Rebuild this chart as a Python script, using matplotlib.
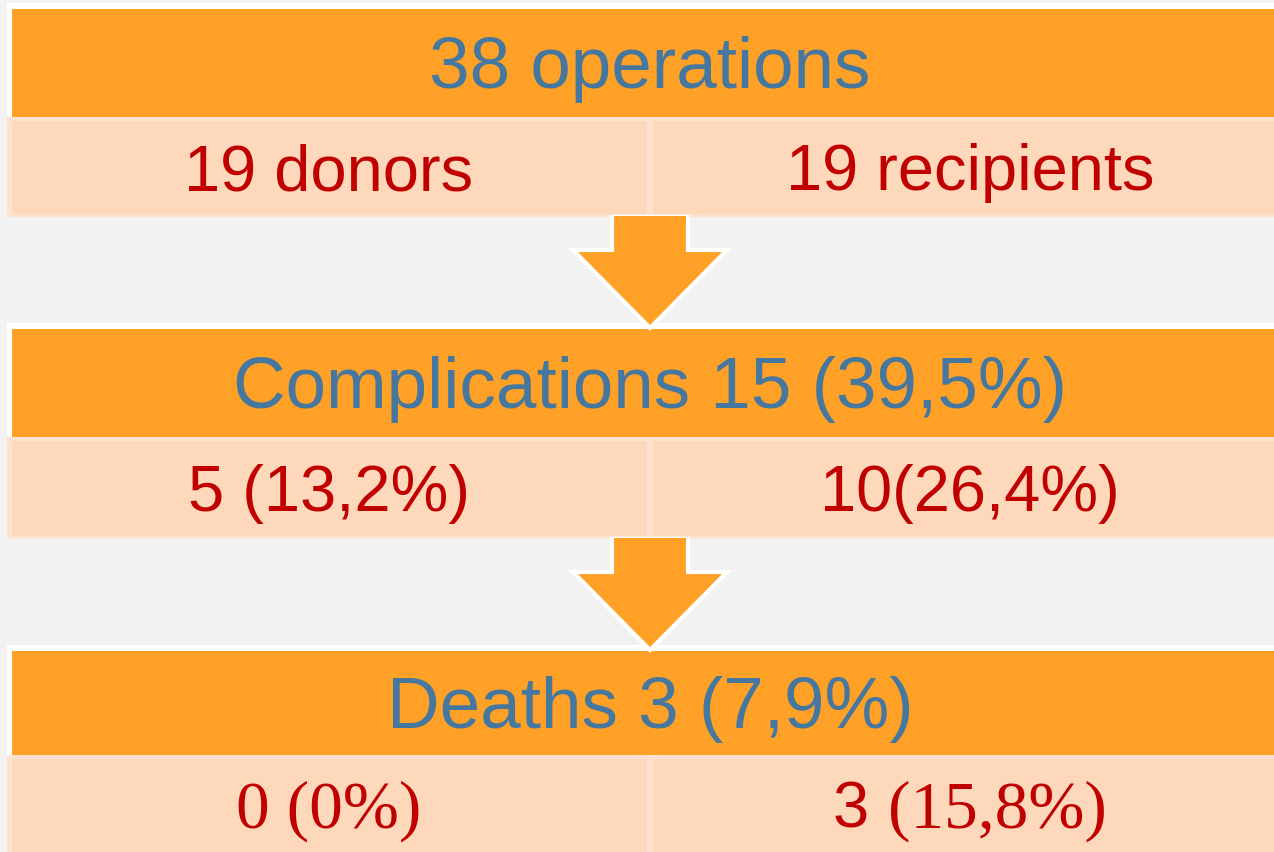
import matplotlib
matplotlib.use("Agg")
import matplotlib.pyplot as plt
from matplotlib.patches import Rectangle, Polygon

# ---- data ----
stage_titles = ["38 operations", "Complications 15 (39,5%)", "Deaths 3 (7,9%)"]
donor_values = ["19 donors", "5 (13,2%)", "0 (0%)"]
recipient_values = ["19 recipients", "10(26,4%)", "3 (15,8%)"]

# ---- style / layout ----
ORANGE = "#FFA126"
PEACH = "#FDD8BA"
PEACH_EDGE = "#FDE2D0"
BLUE = "#46779F"
RED = "#C00000"
BG = "#F2F2F2"

W, H = 1274, 853
header_top = [10, 330, 652]
header_bottom = [118, 438, 756]
row_bottom = [218, 540, 856]
left_cx, right_cx, mid_x = 329, 970, 650
divider = (647, 653)

# parts of cells drawn in a serif face (as in the original slide)
serif_parts = {(2, 0): "0 (0%)", (2, 1): "(15,8%)"}

SANS = "Liberation Sans"
SERIF = "Liberation Serif"
HEAD_FS = 52.5
CELL_FS = 46.8
SERIF_FS = 48.5

fig = plt.figure(figsize=(W / 100, H / 100), dpi=100)
fig.patch.set_facecolor(BG)
ax = fig.add_axes([0, 0, 1, 1])
ax.set_xlim(0, W)
ax.set_ylim(H, 0)
ax.axis("off")
ax.set_facecolor(BG)

renderer = fig.canvas.get_renderer()


def text_width(s, family, size):
    t = ax.text(0, 0, s, family=family, fontsize=size)
    w = t.get_window_extent(renderer).width
    t.remove()
    return w


def cell_text(xc, y, text, serif_suffix):
    if serif_suffix is None:
        ax.text(xc, y, text, family=SANS, fontsize=CELL_FS, color=RED,
                ha="center", va="baseline")
        return
    prefix = text[: len(text) - len(serif_suffix)]
    w1 = 0.0
    if prefix:
        w1 = text_width(prefix + "|", SANS, CELL_FS) - text_width("|", SANS, CELL_FS)
    w2 = text_width(serif_suffix, SERIF, SERIF_FS)
    x0 = xc - (w1 + w2) / 2
    if prefix:
        ax.text(x0, y, prefix, family=SANS, fontsize=CELL_FS, color=RED,
                ha="left", va="baseline")
    ax.text(x0 + w1, y, serif_suffix, family=SERIF, fontsize=SERIF_FS, color=RED,
            ha="left", va="baseline")


for i, title in enumerate(stage_titles):
    ht, hb, rb = header_top[i], header_bottom[i], row_bottom[i]
    # peach row with lighter cell borders
    ax.add_patch(Rectangle((7, hb), 1400, rb - hb, fc=PEACH_EDGE, ec="none", zorder=1))
    ax.add_patch(Rectangle((12, hb + 4), divider[0] - 12, rb - hb - 7, fc=PEACH, ec="none", zorder=2))
    ax.add_patch(Rectangle((divider[1], hb + 4), 1400, rb - hb - 7, fc=PEACH, ec="none", zorder=2))
    # header with white frame
    ax.add_patch(Rectangle((7, ht - 6), 1400, hb - ht + 6, fc="white", ec="none", zorder=3))
    ax.add_patch(Rectangle((12, ht), 1400, hb - ht, fc=ORANGE, ec="none", zorder=4))
    hc = (ht + hb) / 2
    ax.text(mid_x, hc + 24, title, family=SANS, fontsize=HEAD_FS, color=BLUE,
            ha="center", va="baseline", zorder=6)
    rc = (hb + rb) / 2
    cell_text(left_cx, rc + 22, donor_values[i], serif_parts.get((i, 0)))
    cell_text(right_cx, rc + 22, recipient_values[i], serif_parts.get((i, 1)))

    # arrow to next stage
    if i + 1 < len(stage_titles):
        top = rb
        neck = rb + 33
        tip = header_top[i + 1] - 1
        pts = [(612, top), (688, top), (688, neck), (727, neck), (mid_x, tip),
               (573, neck), (612, neck)]
        ax.add_patch(Polygon(pts, closed=True, fc=ORANGE, ec="white", lw=3.0,
                             joinstyle="miter", zorder=5))
        ax.add_patch(Rectangle((614, top - 1), 72, 6, fc=ORANGE, ec="none", zorder=5.5))

fig.savefig("out.png", dpi=100, facecolor=BG)
